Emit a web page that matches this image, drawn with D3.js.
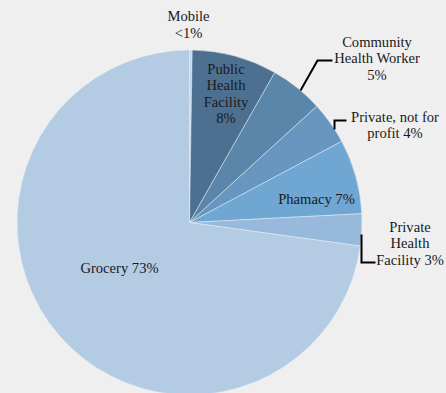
<!DOCTYPE html>
<html>
<head>
<meta charset="utf-8">
<script src="https://cdn.jsdelivr.net/npm/d3@7/dist/d3.min.js"></script>
<style>
  html, body { margin: 0; padding: 0; background: #efefef; }
  svg { display: block; }
</style>
</head>
<body>
<svg id="chart" width="446" height="393"></svg>
<script>
// Where people obtain care / supplies, share of responses (%)
const categories = ["Mobile", "Public Health Facility", "Community Health Worker",
  "Private, not for profit", "Phamacy", "Private Health Facility", "Grocery"];
const values = [0.25, 8, 5, 4, 7, 3, 73];
const valueLabels = ["<1%", "8%", "5%", "4%", "7%", "3%", "73%"];
const colors = ["#c6d5e6", "#4d7091", "#5a86aa", "#6796c0", "#6fa6d2", "#97b9db", "#b4cbe4"];

// Label text lines per slice
const labelLines = [
  ["Mobile", "<1%"],
  ["Public", "Health", "Facility", "8%"],
  ["Community", "Health Worker", "5%"],
  ["Private, not for", "profit 4%"],
  ["Phamacy 7%"],
  ["Private", "Health", "Facility 3%"],
  ["Grocery 73%"]
];
// Label block centers relative to pie center
const labelPos = [
  [-1, -198], [36.5, -129], [187.5, -164.5], [205.5, -97.5], [127, -23.5], [220.5, 20.5], [-70, 45.5]
];
// Leader lines (relative to center), for labels placed outside
const leaders = [
  null, null,
  [[111, -132], [128, -162], [143, -162]],
  [[145, -93], [145, -102], [157, -102]],
  null,
  [[172, 12], [172, 40], [186, 40]],
  null
];

const svg = d3.select("#chart");
const cx = 189.5, cy = 222.5, radius = 172.5;
const g = svg.append("g").attr("transform", `translate(${cx},${cy})`);

const data = categories.map((c, i) => ({ name: c, value: values[i], i }));
const pie = d3.pie().value(d => d.value).sort(null);
const arc = d3.arc().innerRadius(0).outerRadius(radius);

g.selectAll("path.slice")
  .data(pie(data))
  .join("path")
  .attr("class", "slice")
  .attr("d", arc)
  .attr("fill", d => colors[d.data.i])
  .attr("stroke", "#e8eef5")
  .attr("stroke-width", 0.5);

const line = d3.line();
leaders.forEach(pts => {
  if (!pts) return;
  g.append("path")
    .attr("d", line(pts))
    .attr("fill", "none")
    .attr("stroke", "#000")
    .attr("stroke-width", 2);
});

const lh = 16.5;
labelLines.forEach((lines, i) => {
  const [lx, ly] = labelPos[i];
  const t = g.append("text")
    .attr("text-anchor", "middle")
    .attr("x", lx)
    .attr("y", ly - (lines.length - 1) * lh / 2)
    .style("font-family", "'Liberation Serif'")
    .style("font-size", "14.6px")
    .style("fill", "#1a1a1a");
  lines.forEach((s, k) => {
    t.append("tspan")
      .attr("x", lx)
      .attr("dy", k === 0 ? "0.35em" : lh)
      .text(s);
  });
});
</script>
</body>
</html>
